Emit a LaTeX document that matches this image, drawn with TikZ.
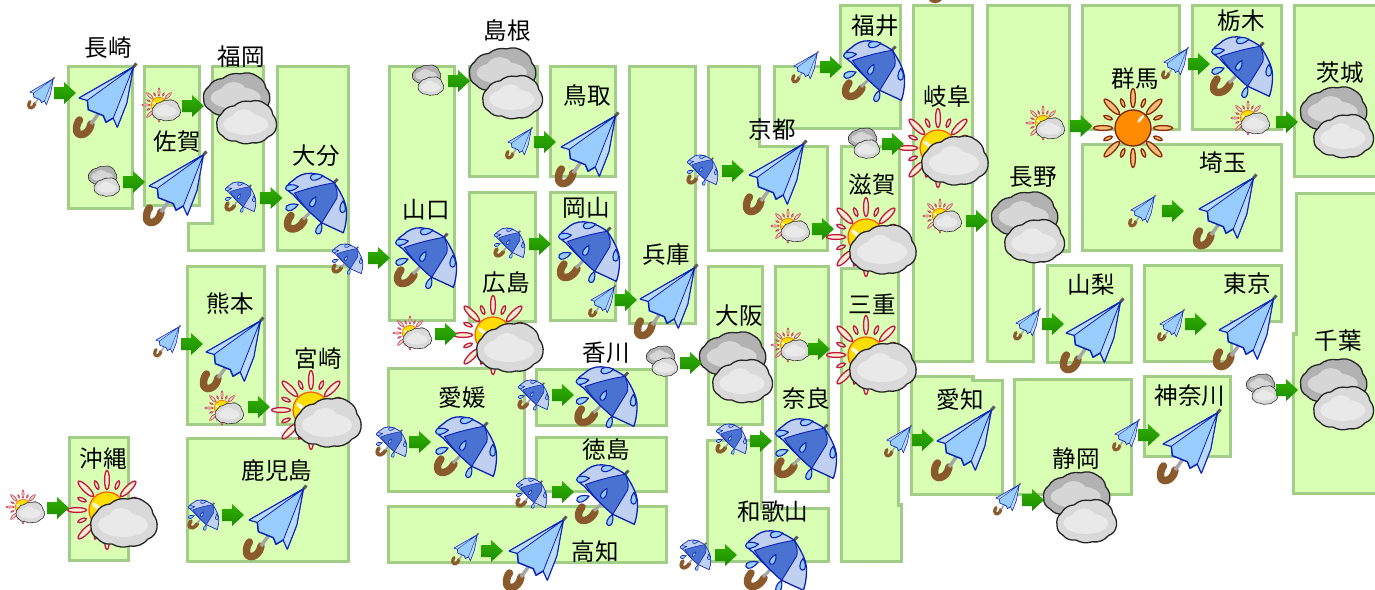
\documentclass[tikz,border=0pt]{standalone}
\usepackage{fontspec}
\newfontfamily\cjk{Noto Sans CJK JP}
\definecolor{landfill}{HTML}{D9FFB5}
\definecolor{landline}{HTML}{A2CD86}
\definecolor{ubl}{HTML}{99CCFF}
\definecolor{ubp}{HTML}{BBDAFF}
\definecolor{ubo}{HTML}{0A22B8}
\definecolor{udk}{HTML}{4A72D0}
\definecolor{ulg}{HTML}{C0D0F0}
\definecolor{brownh}{HTML}{8A5A2C}
\definecolor{arrt}{HTML}{30B000}
\definecolor{arrb}{HTML}{1C8C00}
\definecolor{rayf}{HTML}{FFEBD0}
\definecolor{rayo}{HTML}{C01840}
\definecolor{rayf2}{HTML}{F8BE78}
\definecolor{rayo2}{HTML}{8A2A08}
\tikzset{
  land/.style={draw=landline,fill=landfill,line width=3.4pt,line join=miter},
  lab/.style={font=\cjk\fontsize{23.5}{25}\selectfont,text=black,inner sep=0pt},
}
\newcommand\pref[4]{\path[land] (#1+1.5,#2+1.5) rectangle (#3-1.5,#4-1.5);}
% block arrow
\newcommand\arrowicon[2]{\path[shift={(#1,#2)},top color=arrt,bottom color=arrb]
  (-11,-6) -- (-1,-6) -- (-1,-11) -- (11,0) -- (-1,11) -- (-1,6) -- (-11,6) -- cycle;}
% light closed umbrella
\newcommand\umbL[3]{\begin{scope}[shift={(#1,#2)},scale=#3,line join=round]
  \draw[brownh,line width=#3*7.5pt,line cap=round] (-14,24) .. controls (-16,36) and (-29,38) .. (-28.5,29) .. controls (-28.5,26) and (-27.5,22) .. (-25.5,20);
  \draw[gray!70,line width=#3*3.5pt] (-6,13) -- (-14,24);
  \draw[black!65,line width=#3*3pt] (28.3,-33) -- (31.5,-36.5);
  \draw[ubo,fill=ubl,line width=#3*1.5pt] (28.3,-33) -- (-25.7,-2) -- (-17.7,0.3) -- (-16.7,9.7) -- (-1.7,15.7) -- (1,22.3) -- (8.3,18) -- (12.3,27) -- (21.7,3) -- cycle;
  \draw[ubo,fill=ubp,line width=#3*.8pt] (28.3,-33) -- (-25.7,-2) -- (-17.7,0.3) -- cycle;
  \draw[ubo,fill=ubp,line width=#3*.8pt] (28.3,-33) -- (8.3,18) -- (12.3,27) -- (21.7,3) -- cycle;
\end{scope}}
\newcommand\dropit[5]{\draw[shift={(#1,#2)},rotate=#3,scale=#4,draw=ubo,fill=ubl,line width=#5*1.1pt]
  (6.5,0) .. controls (2,-3.6) and (-6.5,-4.6) .. (-6.5,0) .. controls (-6.5,4.6) and (2,3.6) .. cycle;}
% rain umbrella
\newcommand\umbD[3]{\begin{scope}[shift={(#1,#2)},scale=#3,line join=round]
  \draw[brownh,line width=#3*7.5pt,line cap=round] (-11,17) .. controls (-16,27) and (-27,28) .. (-27.5,21) .. controls (-27.5,17) and (-26,14) .. (-24,12);
  \draw[gray!70,line width=#3*3pt] (-5,9) -- (-12,16);
  \draw[black!65,line width=#3*2.8pt] (19,-20.7) -- (22.5,-24.5);
  \draw[ubo,fill=ulg,line width=#3*1.3pt] (-22,-9) .. controls (-30,-14) and (-30,-18) .. (-22,-23) .. controls (-12,-33) and (2,-33) .. (19.3,-20.7) .. controls (28,-8) and (32,2) .. (31.5,10) .. controls (31.5,18) and (30,25) .. (28.3,29.3) -- (6.7,19.3) .. controls (-4,10) and (-14,0) .. cycle;
  \draw[ubo,fill=udk,line width=#3*.9pt] (-20.5,-10.5) .. controls (-8,-15) and (8,-19) .. (19.3,-20.7) .. controls (22,-14) and (23,-9) .. (21.7,-5) -- (6.7,19.3) .. controls (-4,10) and (-14,0) .. cycle;
  \dropit{-23}{-16}{8}{1}{#3}
  \dropit{1.7}{-26.7}{10}{1}{#3}
  \dropit{-1.7}{-1.7}{62}{.85}{#3}
  \dropit{-23}{3.3}{20}{1}{#3}
  \dropit{4.3}{25}{70}{.9}{#3}
  \dropit{27.7}{3.3}{88}{.9}{#3}
\end{scope}}
% one cloud, centred; #1 fill, #2 inner, #3 line width factor
\newcommand\cloudone[3]{%
  \draw[black!85,fill=#1,line width=#3*1.3pt,line join=round] (-33,5) to[bend left=30] (-28,-9) to[bend left=28] (-14,-18) to[bend left=25] (4,-23) to[bend left=28] (21,-20) to[bend left=25] (29,-8) to[bend left=22] (33,6) to[bend left=30] (24,17) to[bend left=28] (6,24) to[bend left=22] (-12,22) to[bend left=28] (-27,16) to[bend left=30] cycle;
  \fill[#2] (-1,3) ellipse (25 and 12);
  \fill[#2] (-3,-3) ellipse (13 and 11);
}
\newcommand\cloudD[3]{\begin{scope}[shift={(#1,#2)},scale=#3]
  \begin{scope}[shift={(-3.3,-13)},yscale=.92]\cloudone{gray!60}{gray!32}{#3}\end{scope}
  \begin{scope}[shift={(6.7,13.7)},xscale=.9,yscale=.88]\cloudone{gray!30}{gray!17}{#3}\end{scope}
\end{scope}}
\newcommand\sunrays[3]{%
  \foreach \a in {0,90,180,270} \draw[rotate=\a,draw=#2,fill=#1,line width=#3*1.3pt] (30,0) ellipse (9.5 and 2.4);
  \foreach \a in {45,135,225,315} \draw[rotate=\a,draw=#2,fill=#1,line width=#3*1.3pt] (30,0) ellipse (10.5 and 3);
  \foreach \a in {22.5,67.5,...,337.5} \draw[rotate=\a,draw=#2,fill=#1,line width=#3*1.3pt] (27,0) ellipse (4.5 and 1.7);
}
\newcommand\sunC[3]{\begin{scope}[shift={(#1,#2)},scale=#3]
  \sunrays{rayf}{rayo}{#3}
  \draw[draw=orange!70!red,fill=yellow!80!orange,line width=#3*1.2pt] (0,0) circle (18);
  \fill[white,rotate=50,opacity=.85] (-4,-10) ellipse (2 and 6);
  \begin{scope}[shift={(17,12)}]\cloudone{gray!30}{gray!17}{#3}\end{scope}
\end{scope}}
\newcommand\sunO[3]{\begin{scope}[shift={(#1,#2)},scale=#3]
  \sunrays{rayf2}{rayo2}{#3}
  \draw[draw=rayo2!90!black,fill=orange!90!yellow,line width=#3*1.3pt] (0,0) circle (18);
  \fill[white,rotate=-40,opacity=.9] (0,-12) ellipse (1.5 and 5);
\end{scope}}
\begin{document}
\begin{tikzpicture}[x=1pt,y=-1pt]
\useasboundingbox (0,0) rectangle (1375,589);
\clip (0,0) rectangle (1375,589);
% ---------- land blocks
\pref{67}{65}{134}{210}
\pref{143}{65}{201}{207}
\path[land] (212.5,66.5) -- (263.5,66.5) -- (263.5,250.2) -- (188.5,250.2) -- (188.5,223.5) -- (212.5,223.5) -- cycle;
\pref{276}{65}{350}{252}
\pref{186}{265}{266}{426}
\pref{276}{265}{350}{426}
\pref{186}{437}{350}{563}
\pref{68}{436}{130}{562}
\pref{388}{65}{456}{322}
\pref{468}{65}{539}{178}
\pref{468}{191}{537}{323}
\pref{549}{65}{617}{178}
\pref{549}{191}{617}{322}
\pref{628}{65}{697}{325}
\pref{387}{367}{526}{493}
\pref{535}{368}{668}{427}
\pref{535}{436}{668}{493}
\pref{387}{505}{668}{564}
\pref{707}{265}{764}{426}
\path[land] (708.5,66.5) -- (759.5,66.5) -- (759.5,146.5) -- (827.5,146.5) -- (827.5,250.5) -- (708.5,250.5) -- cycle;
\path[land] (774.5,66.5) -- (840.5,66.5) -- (840.5,5.5) -- (900.5,5.5) -- (900.5,128.5) -- (774.5,128.5) -- cycle;
\pref{840}{145}{901}{257}
\path[land] (841.5,268.5) -- (898.5,268.5) -- (898.5,505) -- (901.5,505) -- (901.5,561.5) -- (841.5,561.5) -- cycle;
\pref{774}{265}{830}{493}
\path[land] (707.5,440.5) -- (761.5,440.5) -- (761.5,508.5) -- (828.5,508.5) -- (828.5,561.5) -- (707.5,561.5) -- cycle;
\pref{912}{4}{974}{363}
\path[land] (987.5,5.5) -- (1069.5,5.5) -- (1069.5,251) -- (1033.5,251) -- (1033.5,361.5) -- (987.5,361.5) -- cycle;
\pref{1081}{4}{1181}{131}
\pref{1191}{4}{1283}{131}
\pref{1081}{143}{1283}{252}
\pref{1293}{4}{1380}{178}
\path[land] (1296.5,193.5) -- (1380,193.5) -- (1380,493.5) -- (1293.5,493.5) -- (1293.5,334) -- (1296.5,334) -- cycle;
\pref{1046}{264}{1133}{364}
\path[land] (1144.5,265.5) -- (1281.5,265.5) -- (1281.5,321.5) -- (1231.5,321.5) -- (1231.5,361.5) -- (1144.5,361.5) -- cycle;
\pref{1143}{375}{1232}{458}
\pref{1013}{378}{1133}{496}
\path[land] (911.5,376.5) -- (973,376.5) -- (973,380.5) -- (1002.5,380.5) -- (1002.5,494.5) -- (911.5,494.5) -- cycle;
% ---------- cropped handle at the top edge
\draw[brownh,line width=3pt] (929,-2) .. controls (932,3) and (938,3) .. (942,-2);
% ---------- icons
\foreach \x/\y in {105/100,175/188,275/522,587/149,775/177,666/301,1225/211,1092/335,1245/332,1189/446,963/443,232/354,535/553}
  {\umbL{\x}{\y}{1}}
\foreach \x/\y in {41/93,167/341,519/143,602/301,805/67,1175/63,1142/211,1027/324,1171/325,1126/435,898/441,1007/499,465/549}
  {\umbL{\x}{\y}{.43}}
\foreach \x/\y in {315/203.5,425/258,588/252,873/71,1241/67,605.5/397,465/447,606/495,805/449,775/561}
  {\umbD{\x}{\y}{1}}
\foreach \x/\y in {240/197,203/515,347/259,509/243,702/170,533/395,391/442,531/493,731/439,695/555}
  {\umbD{\x}{\y}{.5}}
\foreach \x/\y in {240/108,506/83,736/367,1028/227,1080/507,1337/122,1337/394}
  {\cloudD{\x}{\y}{1}}
\foreach \x/\y in {104/181,428/80,662/361,864/143,1262/389}
  {\cloudD{\x}{\y}{.43}}
\foreach \x/\y in {107/510,311/410,493/335,938/148,866/237,866/355}
  {\sunC{\x}{\y}{1}}
\foreach \x/\y in {23/507,159/105,222/408,410/333,1043/123,940/216,1248/118,788/345,788/226}
  {\sunC{\x}{\y}{.43}}
\sunO{1133}{128}{1}
% ---------- block arrows
\foreach \x/\y in {65/93,134/182,193/106,271.5/198,379/258,459/81,545/142,540/244,626/300,733/171,823/229,831/67,893/144,977/221,1081.5/126,1199/64,1287/122,1173/211,1053/324,1196/324,1149/435,1287/390,192/344,259/407,58/508,233/515,446/334,420/442,563/395,563/492,492/551,691/363,761/441,726/555,819/349,923/440,1033/500}
  {\arrowicon{\x}{\y}}
% ---------- labels
\begin{scope}[shift={(1,1)}]
\node[lab] (nagasaki) at (107,47) {長崎};
\node[lab] (fukuoka) at (240,56) {福岡};
\node[lab] (saga) at (176,141) {佐賀};
\node[lab] (oita) at (315,155) {大分};
\node[lab] (kumamoto) at (229,303) {熊本};
\node[lab] (miyazaki) at (317,358) {宮崎};
\node[lab] (okinawa) at (102,458) {沖縄};
\node[lab] (kagoshima) at (276,470) {鹿児島};
\node[lab] (yamaguchi) at (425,209) {山口};
\node[lab] (shimane) at (506,30) {島根};
\node[lab] (tottori) at (586,95) {鳥取};
\node[lab] (okayama) at (585,207) {岡山};
\node[lab] (hiroshima) at (505,282) {広島};
\node[lab] (hyogo) at (665,254) {兵庫};
\node[lab] (kagawa) at (605,352) {香川};
\node[lab] (ehime) at (461,397) {愛媛};
\node[lab] (tokushima) at (605,449) {徳島};
\node[lab] (kochi) at (594,551) {高知};
\node[lab] (osaka) at (738,315) {大阪};
\node[lab] (kyoto) at (771,129) {京都};
\node[lab] (shiga) at (871,184) {滋賀};
\node[lab] (mie) at (871,303) {三重};
\node[lab] (nara) at (805,398) {奈良};
\node[lab] (wakayama) at (772,511) {和歌山};
\node[lab] (fukui) at (874,25) {福井};
\node[lab] (gifu) at (946,96) {岐阜};
\node[lab] (nagano) at (1032,176) {長野};
\node[lab] (aichi) at (959,399) {愛知};
\node[lab] (shizuoka) at (1075,458) {静岡};
\node[lab] (gunma) at (1134,78) {群馬};
\node[lab] (tochigi) at (1240,20) {栃木};
\node[lab] (saitama) at (1222,162) {埼玉};
\node[lab] (tokyo) at (1246,283) {東京};
\node[lab] (yamanashi) at (1090,284) {山梨};
\node[lab] (kanagawa) at (1189,395) {神奈川};
\node[lab] (ibaraki) at (1339,72) {茨城};
\node[lab] (chiba) at (1337,340) {千葉};
\end{scope}
\end{tikzpicture}
\end{document}
